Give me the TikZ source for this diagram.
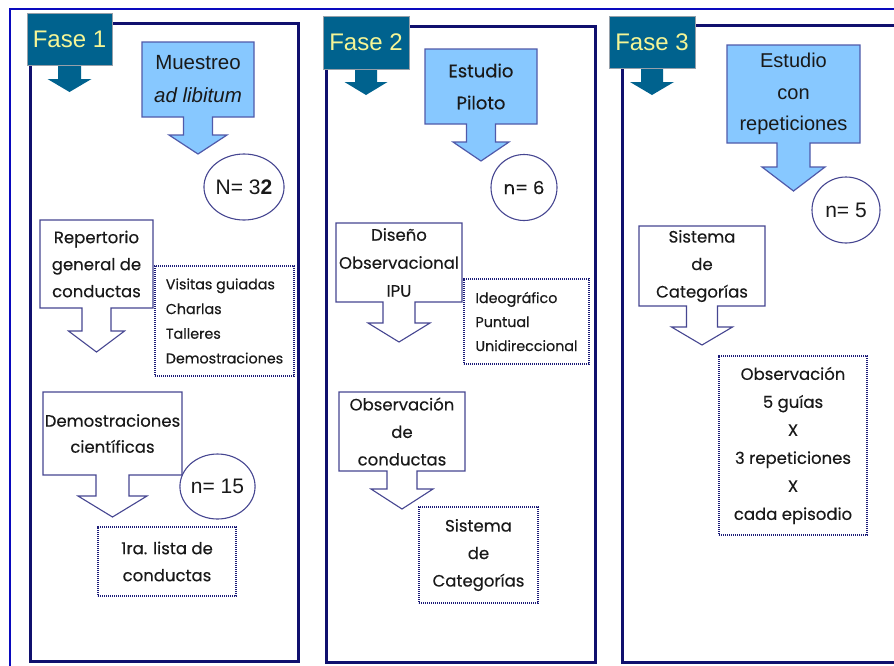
\documentclass[tikz,border=0pt]{standalone}
\usepackage{fontspec}
\setmainfont{Poppins}[FakeBold=0.3]
\newfontfamily\arialfont{Liberation Sans}
\usetikzlibrary{calc,shapes.geometric}

\pgfdeclarelayer{frames}
\pgfdeclarelayer{shapes}
\pgfsetlayers{frames,shapes,main}

\definecolor{panelnavy}{RGB}{16,16,110}
\definecolor{outerblue}{RGB}{10,10,190}
\definecolor{tabteal}{RGB}{0,98,142}
\definecolor{tabedge}{RGB}{150,160,170}
\definecolor{tabtext}{RGB}{245,245,150}
\definecolor{calloutfill}{RGB}{135,200,255}
\definecolor{calloutedge}{RGB}{80,90,170}
\definecolor{boxedge}{RGB}{70,70,145}
\definecolor{dotedge}{RGB}{28,28,120}
\definecolor{inktext}{RGB}{25,25,25}

\tikzset{
  panel/.style={draw=panelnavy,line width=3pt},
  txt/.style={inner sep=0pt,outer sep=0pt,align=center,text=inktext},
  tabnode/.style={txt,text=tabtext,font=\arialfont\fontsize{24}{28}\selectfont},
  tabshape/.style={fill=tabteal},
  calloutshape/.style={fill=calloutfill,draw=calloutedge,line width=1.2pt,line join=miter},
  whiteshape/.style={fill=white,draw=boxedge,line width=1.1pt,line join=miter},
  dotbox/.style={txt,draw=dotedge,line width=2.6pt,dash pattern=on 1.2pt off 0.8pt},
  countnode/.style={txt,ellipse,draw=boxedge,line width=1.1pt,fill=white,
    font=\arialfont\fontsize{21}{24}\selectfont},
  bodyfont/.style={font=\fontsize{16.5}{#1}\selectfont},
  listfont/.style={font=\fontsize{14.3}{#1}\selectfont},
}

% outline of a box with a downward block arrow hanging from its bottom edge
% #1 node, #2 style, #3 stem half width, #4 stem length, #5 head half width, #6 head length
\newcommand\blockarrowbox[6]{%
  \begin{pgfonlayer}{shapes}
  \path[#2] (#1.north west) -- (#1.north east) -- (#1.south east)
    -- ($(#1.south)+(#3,0)$) -- ($(#1.south)+(#3,#4)$) -- ($(#1.south)+(#5,#4)$)
    -- ($(#1.south)+(0,{#4+#6})$)
    -- ($(#1.south)+(-#5,#4)$) -- ($(#1.south)+(-#3,#4)$) -- ($(#1.south)+(-#3,0)$)
    -- (#1.south west) -- cycle;
  \end{pgfonlayer}}

\begin{document}
\begin{tikzpicture}[x=1pt,y=-1pt]
\useasboundingbox (0,0) rectangle (894,665);
\clip (0,0) rectangle (894,665);

% page frame and the three phase panels
\begin{pgfonlayer}{frames}
  \fill[white] (0,0) rectangle (894,665);
  \draw[outerblue,line width=1.4pt] (10,9) rectangle (910,690);
  \draw[panel] (30,23) rectangle (298,661.5);
  \draw[panel] (326,26) rectangle (595,662.5);
  \draw[panel] (622,25) rectangle (910,662.5);
\end{pgfonlayer}

% phase tabs
\node[tabnode,minimum width=85pt,minimum height=52pt] (tab1) at (69.5,39) {Fase 1};
\node[tabnode,minimum width=86pt,minimum height=53pt] (tab2) at (366,42.5) {Fase 2};
\node[tabnode,minimum width=86pt,minimum height=52pt] (tab3) at (652,42) {Fase 3};
\blockarrowbox{tab1}{tabshape}{11.5}{14}{22}{13}
\blockarrowbox{tab2}{tabshape}{11}{13}{21.5}{13}
\blockarrowbox{tab3}{tabshape}{11}{14}{22}{13}
\begin{pgfonlayer}{shapes}
  \draw[tabedge,line width=0.8pt] (tab1.south west) rectangle (tab1.north east);
  \draw[tabedge,line width=0.8pt] (tab2.south west) rectangle (tab2.north east);
  \draw[tabedge,line width=0.8pt] (tab3.south west) rectangle (tab3.north east);
\end{pgfonlayer}

% sampling callouts
\node[txt,minimum width=112pt,minimum height=75pt,font=\arialfont\fontsize{20.5}{33}\selectfont]
  (muestreo) at (198,79.5) {Muestreo\\\textit{ad libitum}};
\node[txt,minimum width=112pt,minimum height=75pt,font=\fontsize{18}{32}\selectfont]
  (piloto) at (481,86.5) {Estudio\\Piloto};
\node[txt,minimum width=133pt,minimum height=98pt,font=\arialfont\fontsize{20}{31.5}\selectfont]
  (repet) at (793.5,94) {Estudio\\con\\repeticiones};
\blockarrowbox{muestreo}{calloutshape}{14.5}{18}{29}{19}
\blockarrowbox{piloto}{calloutshape}{14.5}{18}{28}{19}
\blockarrowbox{repet}{calloutshape}{16.5}{24}{31.5}{24}

% sample sizes
\node[countnode,minimum width=72pt,minimum height=66pt] (n32) at (244,187) {N= 3\textbf{2}};
\node[countnode,minimum width=67pt,minimum height=65pt] (n15) at (217.5,486.5) {n= 15};
\node[countnode,minimum width=66pt,minimum height=66pt,font=\fontsize{18}{22}\selectfont] (n6) at (524,187.5) {n= 6};
\node[countnode,minimum width=68pt,minimum height=66pt] (n5) at (846,210) {n= 5};

% phase 1
\node[txt,minimum width=113pt,minimum height=88pt,bodyfont=27]
  (repert) at (96.5,264) {Repertorio\\general de\\conductas};
\blockarrowbox{repert}{whiteshape}{14.5}{23}{28}{21}
\node[dotbox,align=left,minimum width=139pt,minimum height=110pt,listfont=24.7]
  (visitas) at (224.5,321) {Visitas guiadas\\Charlas\\Talleres\\Demostraciones};
\node[txt,minimum width=139pt,minimum height=83pt,bodyfont=26]
  (demos) at (112.5,433.5) {Demostraciones\\científicas};
\blockarrowbox{demos}{whiteshape}{16.5}{21}{34.5}{21}
\node[dotbox,minimum width=138pt,minimum height=69pt,bodyfont=27]
  (lista) at (167,561.5) {1ra. lista de\\conductas};

% phase 2
\node[txt,minimum width=126pt,minimum height=79pt,bodyfont=28]
  (diseno) at (399,262.5) {Diseño\\Observacional\\IPU};
\blockarrowbox{diseno}{whiteshape}{16}{21}{31}{19}
\node[dotbox,align=left,minimum width=125pt,minimum height=85pt,listfont=24]
  (ideo) at (526.5,321.5) {Ideográfico\\Puntual\\Unidireccional};
\node[txt,minimum width=126pt,minimum height=79pt,bodyfont=27.5]
  (obsc) at (402,431.5) {Observación\\de\\conductas};
\blockarrowbox{obsc}{whiteshape}{15}{18}{31}{20}
\node[dotbox,minimum width=119pt,minimum height=96pt,bodyfont=27.5]
  (sist2) at (478.5,555) {Sistema\\de\\Categorías};

% phase 3
\node[txt,minimum width=126pt,minimum height=80pt,bodyfont=27.5]
  (sist3) at (702,266) {Sistema\\de\\Categorías};
\blockarrowbox{sist3}{whiteshape}{15.5}{21}{30.5}{18}
\node[dotbox,minimum width=148pt,minimum height=179pt,bodyfont=28]
  (obs3) at (793,445.5) {Observación\\5 guías\\X\\3 repeticiones\\X\\cada episodio};
\end{tikzpicture}
\end{document}
